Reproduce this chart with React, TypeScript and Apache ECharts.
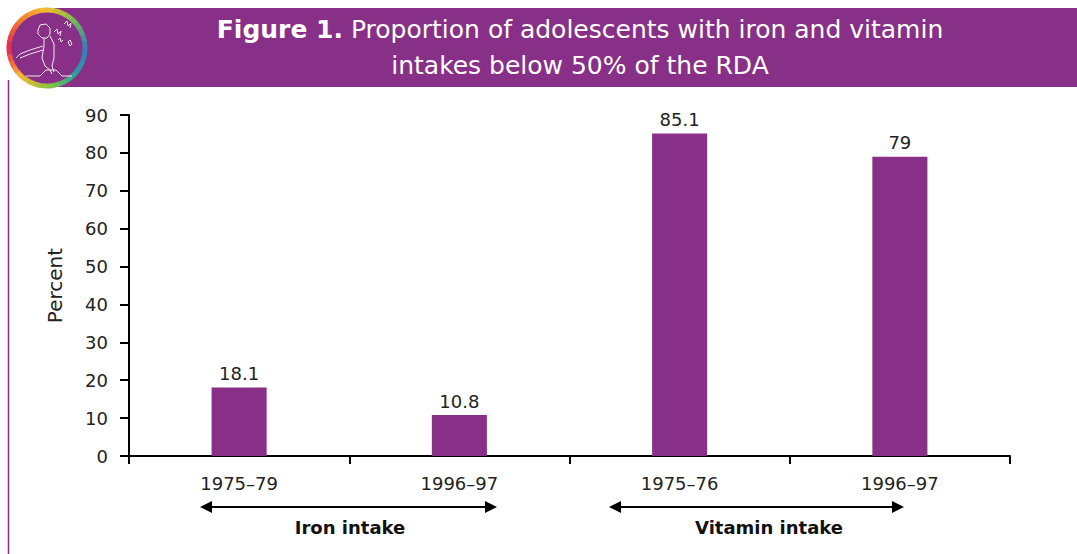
import React, { useEffect, useRef } from "react";
import * as echarts from "echarts";

const categories = ["1975–79", "1996–97", "1975–76", "1996–97"];
const values = [18.1, 10.8, 85.1, 79];
const yTicks = { min: 0, max: 90, interval: 10 };
const groupLabels = ["Iron intake", "Vitamin intake"];
const titleBold = "Figure 1.";
const titleLine1 = " Proportion of adolescents with iron and vitamin";
const titleLine2 = "intakes below 50% of the RDA";

const PURPLE = "#883087";
const FONT = "'DejaVu Sans', sans-serif";

function lerp(a: number[], b: number[], t: number) {
  return a.map((v, i) => Math.round(v + (b[i] - v) * t));
}
function ringColor(angle: number) {
  const stops: [number, number[]][] = [
    [0, [59, 120, 185]],
    [0.12, [40, 160, 160]],
    [0.25, [140, 198, 63]],
    [0.37, [247, 183, 51]],
    [0.5, [229, 35, 79]],
    [0.62, [240, 120, 50]],
    [0.75, [247, 190, 45]],
    [0.87, [120, 190, 80]],
    [1, [59, 120, 185]],
  ];
  const f = angle / (Math.PI * 2);
  for (let i = 0; i < stops.length - 1; i++) {
    if (f >= stops[i][0] && f <= stops[i + 1][0]) {
      const t = (f - stops[i][0]) / (stops[i + 1][0] - stops[i][0]);
      const c = lerp(stops[i][1], stops[i + 1][1], t);
      return `rgb(${c[0]},${c[1]},${c[2]})`;
    }
  }
  return "rgb(59,120,185)";
}

export default function App() {
  const ref = useRef<HTMLDivElement>(null);
  useEffect(() => {
    if (!ref.current) return;
    const chart = echarts.init(ref.current, null, { renderer: "svg" });

    const cx = 47, cy = 48, r = 38;
    const N = 36;
    const arcs: any[] = [];
    for (let i = 0; i < N; i++) {
      const a0 = (i / N) * Math.PI * 2;
      const a1 = ((i + 1.05) / N) * Math.PI * 2;
      arcs.push({
        type: "arc",
        shape: { cx, cy, r, startAngle: a0, endAngle: a1 },
        style: { stroke: ringColor((a0 + a1) / 2), lineWidth: 5, fill: "none" },
        z: 20,
      });
    }
    const white = { stroke: "#f4e6f3", lineWidth: 1, fill: "none" };
    const figure: any[] = [
      { type: "polyline", shape: { points: [[38, 30], [40, 25], [46, 24], [50, 28], [50, 34], [47, 38], [42, 38], [38, 34], [38, 30]] }, style: white, z: 22 },
      { type: "polyline", shape: { points: [[44, 38], [44, 46], [42, 58], [45, 66], [50, 70], [52, 74]] }, style: white, z: 22 },
      { type: "polyline", shape: { points: [[50, 36], [54, 44], [54, 58], [52, 66], [54, 72]] }, style: white, z: 22 },
      { type: "polyline", shape: { points: [[43, 46], [30, 50], [20, 54], [16, 58]] }, style: white, z: 22 },
      { type: "polyline", shape: { points: [[43, 50], [30, 54], [20, 58]] }, style: white, z: 22 },
      { type: "polyline", shape: { points: [[26, 76], [40, 76], [46, 70], [56, 70], [62, 76], [72, 76]] }, style: white, z: 22 },
      { type: "polyline", shape: { points: [[64, 24], [67, 21], [68, 26], [71, 23], [70, 28]] }, style: white, z: 22 },
      { type: "polyline", shape: { points: [[54, 32], [57, 29], [58, 34], [61, 31], [60, 36]] }, style: white, z: 22 },
      { type: "polyline", shape: { points: [[58, 40], [60, 38], [61, 42], [63, 40]] }, style: white, z: 22 },
      { type: "polyline", shape: { points: [[68, 42], [70, 40], [72, 44], [70, 46], [68, 42]] }, style: white, z: 22 },
    ];

    const arrowY = 507;
    const arrow = (x1: number, x2: number) => [
      { type: "line", shape: { x1: x1 + 8, y1: arrowY, x2: x2 - 8, y2: arrowY }, style: { stroke: "#000", lineWidth: 2 } },
      { type: "polygon", shape: { points: [[x1, arrowY], [x1 + 12, arrowY - 6], [x1 + 12, arrowY + 6]] }, style: { fill: "#000" } },
      { type: "polygon", shape: { points: [[x2, arrowY], [x2 - 12, arrowY - 6], [x2 - 12, arrowY + 6]] }, style: { fill: "#000" } },
    ];

    chart.setOption({
      animation: false,
      backgroundColor: "#fff",
      grid: { left: 129, right: 67, top: 115, bottom: 98, containLabel: false },
      xAxis: {
        type: "category",
        data: categories,
        axisLine: { lineStyle: { color: "#000", width: 2 } },
        axisTick: { show: true, length: 8, lineStyle: { color: "#000", width: 2 } },
        axisLabel: { color: "#222", fontSize: 18, fontFamily: FONT, margin: 18 },
      },
      yAxis: {
        type: "value",
        min: yTicks.min,
        max: yTicks.max,
        interval: yTicks.interval,
        name: "Percent",
        nameLocation: "middle",
        nameGap: 64,
        nameRotate: 90,
        nameTextStyle: { color: "#222", fontSize: 20, fontFamily: FONT },
        splitLine: { show: false },
        axisLine: { show: true, lineStyle: { color: "#000", width: 2 } },
        axisTick: { show: true, length: 9, lineStyle: { color: "#000", width: 2 } },
        axisLabel: { color: "#222", fontSize: 18, fontFamily: FONT, margin: 21 },
      },
      series: [
        {
          type: "bar",
          data: values,
          barWidth: "25%",
          itemStyle: { color: PURPLE },
          label: {
            show: true,
            position: "top",
            distance: 5,
            color: "#222",
            fontSize: 18,
            fontFamily: FONT,
          },
        },
      ],
      graphic: [
        { type: "rect", shape: { x: 55, y: 8, width: 1022, height: 79 }, style: { fill: PURPLE }, z: 10 },
        { type: "line", shape: { x1: 8.5, y1: 80, x2: 8.5, y2: 554 }, style: { stroke: PURPLE, lineWidth: 1.5 }, z: 10 },
        { type: "circle", shape: { cx, cy, r: 38 }, style: { fill: PURPLE }, z: 19 },
        ...arcs,
        ...figure,
        {
          type: "text",
          x: 580,
          y: 11,
          z: 30,
          style: {
            text: `{b|${titleBold}}${titleLine1}\n${titleLine2}`,
            align: "center",
            verticalAlign: "top",
            fill: "#fff",
            font: `25px ${FONT}`,
            lineHeight: 36,
            rich: {
              b: { fontWeight: "bold", fontSize: 25, fontFamily: FONT, fill: "#fff", lineHeight: 36 },
            },
          },
        },
        ...arrow(200, 497),
        ...arrow(609, 904),
        {
          type: "text", x: 350, y: 527,
          style: { text: groupLabels[0], align: "center", verticalAlign: "middle", fill: "#111", font: `bold 18px ${FONT}` },
        },
        {
          type: "text", x: 769, y: 527,
          style: { text: groupLabels[1], align: "center", verticalAlign: "middle", fill: "#111", font: `bold 18px ${FONT}` },
        },
      ],
    });
    return () => chart.dispose();
  }, []);
  return <div ref={ref} style={{ position: "absolute", left: 0, top: 0, width: 1077, height: 554 }} />;
}
